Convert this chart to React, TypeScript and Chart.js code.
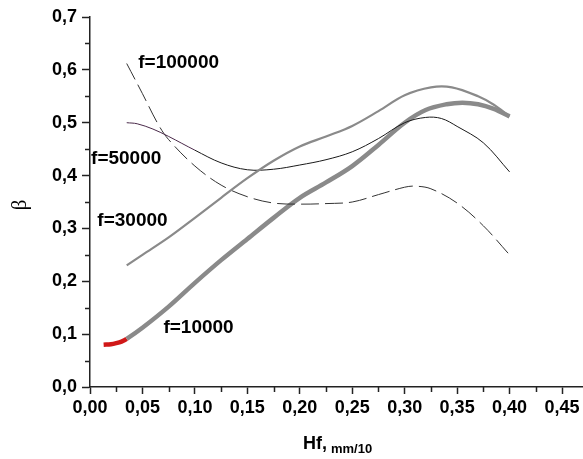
import React, { useEffect, useRef } from 'react';
import { Chart, registerables } from 'chart.js';

Chart.register(...registerables);

// f = 10000 (thick grey, red start)
const x10000 = [0.013, 0.02, 0.025, 0.03, 0.035, 0.05, 0.075, 0.1, 0.125, 0.15, 0.175, 0.2, 0.225, 0.25, 0.275, 0.3, 0.32, 0.34, 0.355, 0.37, 0.385, 0.4];
const y10000 = [0.08, 0.081, 0.083, 0.086, 0.091, 0.112, 0.152, 0.197, 0.24, 0.28, 0.32, 0.358, 0.387, 0.418, 0.458, 0.5, 0.524, 0.535, 0.538, 0.535, 0.526, 0.512];

// f = 30000 (grey)
const x30000 = [0.035, 0.05, 0.075, 0.1, 0.125, 0.15, 0.175, 0.2, 0.225, 0.25, 0.275, 0.3, 0.325, 0.345, 0.37, 0.385, 0.4];
const y30000 = [0.23, 0.25, 0.283, 0.32, 0.358, 0.395, 0.428, 0.455, 0.474, 0.494, 0.522, 0.552, 0.567, 0.567, 0.55, 0.534, 0.512];

// f = 50000 (thin black)
const x50000 = [0.035, 0.045, 0.06, 0.075, 0.1, 0.125, 0.15, 0.175, 0.2, 0.225, 0.25, 0.275, 0.3, 0.32, 0.335, 0.35, 0.375, 0.4];
const y50000 = [0.5, 0.498, 0.488, 0.474, 0.448, 0.424, 0.411, 0.412, 0.42, 0.43, 0.445, 0.47, 0.5, 0.51, 0.508, 0.493, 0.462, 0.407];

// f = 100000 (dashed)
const x100000 = [0.035, 0.05, 0.065, 0.075, 0.1, 0.125, 0.15, 0.175, 0.2, 0.225, 0.25, 0.275, 0.3, 0.31, 0.325, 0.35, 0.375, 0.4];
const y100000 = [0.612, 0.555, 0.497, 0.468, 0.418, 0.382, 0.36, 0.348, 0.346, 0.347, 0.35, 0.364, 0.378, 0.38, 0.375, 0.348, 0.305, 0.25];

const xTickLabels = ['0,00', '0,05', '0,10', '0,15', '0,20', '0,25', '0,30', '0,35', '0,40', '0,45'];
const yTickLabels = ['0,0', '0,1', '0,2', '0,3', '0,4', '0,5', '0,6', '0,7'];

const curveLabelTexts = ['f=100000', 'f=50000', 'f=30000', 'f=10000'];
const curveLabelX = [0.046, 0.001, 0.007, 0.07];
const curveLabelY = [0.614, 0.431, 0.314, 0.113];

const xMinorTicks = [0.025, 0.075, 0.125, 0.175, 0.225, 0.275, 0.325, 0.375, 0.425];
const yMinorTicks = [0.05, 0.15, 0.25, 0.35, 0.45, 0.55, 0.65];

const pts = (xs: number[], ys: number[]) => xs.map((x, i) => ({ x, y: ys[i] }));

const BOLD = 'bold 18px Arial, "Liberation Sans", sans-serif';

const decorPlugin = {
  id: 'decor',
  afterDraw(chart: any) {
    const ctx = chart.ctx as CanvasRenderingContext2D;
    const xs = chart.scales.x;
    const ys = chart.scales.y;
    const area = chart.chartArea;
    ctx.save();
    // minor ticks
    ctx.strokeStyle = '#222';
    ctx.lineWidth = 1.5;
    ctx.beginPath();
    xMinorTicks.forEach((v) => {
      const px = Math.round(xs.getPixelForValue(v)) + 0.5;
      ctx.moveTo(px, area.bottom);
      ctx.lineTo(px, area.bottom + 5);
    });
    yMinorTicks.forEach((v) => {
      const py = Math.round(ys.getPixelForValue(v)) + 0.5;
      ctx.moveTo(area.left, py);
      ctx.lineTo(area.left - 5, py);
    });
    ctx.stroke();

    // curve labels
    ctx.fillStyle = '#000';
    ctx.font = 'bold 19px Arial, "Liberation Sans", sans-serif';
    ctx.textAlign = 'left';
    ctx.textBaseline = 'middle';
    curveLabelTexts.forEach((t, i) => {
      ctx.fillText(t, xs.getPixelForValue(curveLabelX[i]), ys.getPixelForValue(curveLabelY[i]));
    });

    // x title
    ctx.textBaseline = 'alphabetic';
    ctx.font = BOLD;
    ctx.fillText('Hf,', 303, 449);
    ctx.font = 'bold 13px Arial, "Liberation Sans", sans-serif';
    ctx.fillText('mm/10', 331, 453);

    // y title
    ctx.translate(20, 205);
    ctx.rotate(-Math.PI / 2);
    ctx.font = '21px "Times New Roman", "Liberation Serif", serif';
    ctx.textAlign = 'center';
    ctx.textBaseline = 'middle';
    ctx.fillText('β', 0, 0);
    ctx.restore();
  },
};

export default function App() {
  const ref = useRef<HTMLCanvasElement | null>(null);
  useEffect(() => {
    if (!ref.current) return;
    const chart = new Chart(ref.current, {
      type: 'line',
      data: {
        datasets: [
          {
            label: 'f=30000',
            data: pts(x30000, y30000),
            borderColor: '#8a8a8a',
            borderWidth: 2.2,
            pointRadius: 0,
            tension: 0.35,
          },
          {
            label: 'f=50000',
            data: pts(x50000, y50000),
            borderColor: '#1a1a1a',
            borderWidth: 1,
            pointRadius: 0,
            tension: 0.35,
            segment: {
              borderColor: (c: any) => (c.p0.parsed.x < 0.1 ? '#4a2a4a' : '#1a1a1a'),
            },
          },
          {
            label: 'f=100000',
            data: pts(x100000, y100000),
            borderColor: '#333',
            borderWidth: 1,
            borderDash: [18, 6],
            pointRadius: 0,
            tension: 0.35,
          },
          {
            label: 'f=10000',
            data: pts(x10000, y10000),
            borderColor: '#8a8a8a',
            borderWidth: 4.5,
            pointRadius: 0,
            tension: 0.35,
            segment: {
              borderColor: (c: any) => (c.p0.parsed.x < 0.034 ? '#d01818' : '#8a8a8a'),
            },
          },
        ],
      },
      options: {
        animation: false,
        responsive: false,
        devicePixelRatio: 1,
        layout: { padding: { top: 17, right: 0, bottom: 0, left: 0 } },
        plugins: { legend: { display: false }, tooltip: { enabled: false } },
        scales: {
          x: {
            type: 'linear',
            min: 0,
            max: 0.47,
            afterFit: (s: any) => {
              s.height = 72;
            },
            border: { display: true, color: '#222', width: 1.5 },
            grid: { drawOnChartArea: false, drawTicks: true, tickLength: 7, tickColor: '#222', tickWidth: 1.5 },
            ticks: {
              stepSize: 0.05,
              includeBounds: false,
              padding: 3,
              color: '#000',
              maxRotation: 0,
              autoSkip: false,
              font: { family: 'Arial, "Liberation Sans", sans-serif', size: 18, weight: 'bold' },
              callback: (_v: any, i: number) => xTickLabels[i] ?? '',
            },
          },
          y: {
            type: 'linear',
            min: 0,
            max: 0.7,
            afterFit: (s: any) => {
              s.width = 90;
            },
            border: { display: true, color: '#222', width: 1.5 },
            grid: { drawOnChartArea: false, drawTicks: true, tickLength: 8, tickColor: '#222', tickWidth: 1.5 },
            ticks: {
              stepSize: 0.1,
              padding: 5,
              color: '#000',
              autoSkip: false,
              font: { family: 'Arial, "Liberation Sans", sans-serif', size: 18, weight: 'bold' },
              callback: (_v: any, i: number) => yTickLabels[i] ?? '',
            },
          },
        },
      },
      plugins: [decorPlugin],
    } as any);
    return () => chart.destroy();
  }, []);
  return (
    <div style={{ position: 'absolute', left: 0, top: 0, width: 583, height: 459, background: '#fff' }}>
      <canvas ref={ref} width={583} height={459} style={{ display: 'block', width: 583, height: 459 }} />
    </div>
  );
}
